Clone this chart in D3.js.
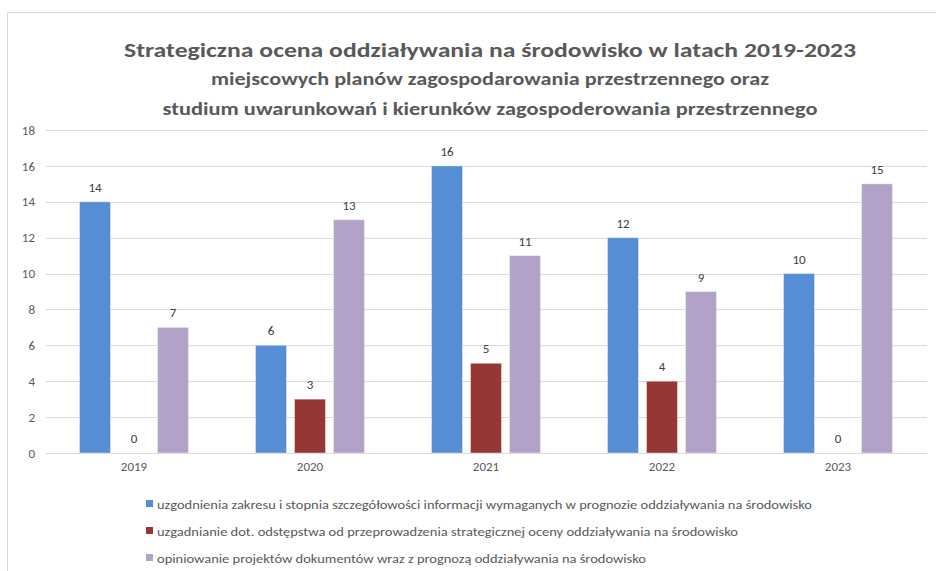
<!DOCTYPE html>
<html>
<head>
<meta charset="utf-8">
<script src="https://cdn.jsdelivr.net/npm/d3@7"></script>
<style>
  body { margin: 0; background: #fff; }
  text { font-family: Carlito, "Liberation Sans Narrow", "Noto Sans", sans-serif; }
</style>
</head>
<body>
<script>
// data
var years = ["2019", "2020", "2021", "2022", "2023"];
var uzgodnienia = [14, 6, 16, 12, 10];
var odstepstwa = [0, 3, 5, 4, 0];
var opiniowanie = [7, 13, 11, 9, 15];
var seriesNames = [
  "uzgodnienia zakresu i stopnia szczegółowości informacji wymaganych w prognozie oddziaływania na środowisko",
  "uzgadnianie dot. odstępstwa od przeprowadzenia strategicznej oceny oddziaływania na środowisko",
  "opiniowanie projektów dokumentów wraz z prognozą oddziaływania na środowisko"
];
var colors = ["#558ed5", "#953735", "#b3a2c7"];
var yTicks = [0, 2, 4, 6, 8, 10, 12, 14, 16, 18];
var titleLines = [
  "Strategiczna ocena oddziaływania na środowisko w latach 2019-2023",
  "miejscowych planów zagospodarowania przestrzennego oraz",
  "studium uwarunkowań i kierunków zagospoderowania przestrzennego"
];

var width = 936, height = 571;
var svg = d3.select("body").append("svg").attr("width", width).attr("height", height);

// chart frame (cut off right and bottom)
svg.append("rect").attr("x", 7.5).attr("y", 12.5).attr("width", 1000).attr("height", 1000)
  .attr("fill", "none").attr("stroke", "#d9d9d9");

// titles
var titleCfg = [{y: 57, size: 21, w: 732, weight: "bold"}, {y: 85, size: 18, w: 558, weight: "bold"}, {y: 115, size: 18, w: 655, weight: "bold"}];
titleLines.forEach(function(t, i){
  svg.append("text").attr("x", 490).attr("y", titleCfg[i].y)
    .attr("text-anchor", "middle").attr("font-size", titleCfg[i].size)
    .attr("font-weight", titleCfg[i].weight).attr("fill", "#595959")
    .attr("textLength", titleCfg[i].w).attr("lengthAdjust", "spacingAndGlyphs")
    .text(t);
});

var x0 = d3.scaleBand().domain(years).range([46, 926]);
var x1 = d3.scaleBand().domain([0, 1, 2]).range([0, x0.bandwidth()]).paddingInner(0.205).paddingOuter(0.859);
var y = d3.scaleLinear().domain([0, 18]).range([453, 130]);

// gridlines
svg.append("g").selectAll("line").data(yTicks).enter().append("line")
  .attr("x1", 46).attr("x2", 927)
  .attr("y1", function(d){ return Math.round(y(d)) + 0.5 })
  .attr("y2", function(d){ return Math.round(y(d)) + 0.5 })
  .attr("stroke", "#d9d9d9").attr("stroke-width", 1);

// y axis labels
var yAxis = svg.append("g").attr("transform", "translate(46,0)")
  .call(d3.axisLeft(y).tickValues(yTicks).tickSize(0).tickPadding(11));
yAxis.select(".domain").remove();
yAxis.selectAll("text").attr("font-size", 13).attr("fill", "#595959").style("font-family", null);

// x axis labels
var xAxis = svg.append("g").attr("transform", "translate(0,453)")
  .call(d3.axisBottom(x0).tickSize(0).tickPadding(9));
xAxis.select(".domain").remove();
xAxis.selectAll("text").attr("font-size", 13).attr("fill", "#595959").style("font-family", null);

var rows = years.map(function(yr, i){
  return {year: yr, values: [uzgodnienia[i], odstepstwa[i], opiniowanie[i]]};
});

var groups = svg.selectAll("g.year").data(rows).enter().append("g")
  .attr("class", "year")
  .attr("transform", function(d){ return "translate(" + x0(d.year) + ",0)" });

groups.selectAll("rect").data(function(d){ return d.values }).enter().append("rect")
  .attr("x", function(d, i){ return x1(i) })
  .attr("width", x1.bandwidth())
  .attr("y", function(d){ return y(d) })
  .attr("height", function(d){ return y(0) - y(d) })
  .attr("fill", function(d, i){ return colors[i] })
  .attr("stroke", "#fff").attr("stroke-opacity", 0.4).attr("stroke-width", 1);

groups.selectAll("text.val").data(function(d){ return d.values }).enter().append("text")
  .attr("class", "val")
  .attr("x", function(d, i){ return x1(i) + x1.bandwidth() / 2 })
  .attr("y", function(d){ return y(d) - 10 })
  .attr("text-anchor", "middle").attr("font-size", 13).attr("fill", "#404040")
  .text(function(d){ return d });

// legend
var legendW = [655, 581, 489];
var legend = svg.selectAll("g.leg").data(seriesNames).enter().append("g")
  .attr("class", "leg")
  .attr("transform", function(d, i){ return "translate(146," + (504 + i * 27) + ")" });
legend.append("rect").attr("x", 0).attr("y", -4).attr("width", 7).attr("height", 7)
  .attr("fill", function(d, i){ return colors[i] });
legend.append("text").attr("x", 11).attr("y", 4.5)
  .attr("font-size", 13).attr("fill", "#595959")
  .attr("textLength", function(d, i){ return legendW[i] }).attr("lengthAdjust", "spacingAndGlyphs")
  .text(function(d){ return d });
</script>
</body>
</html>
